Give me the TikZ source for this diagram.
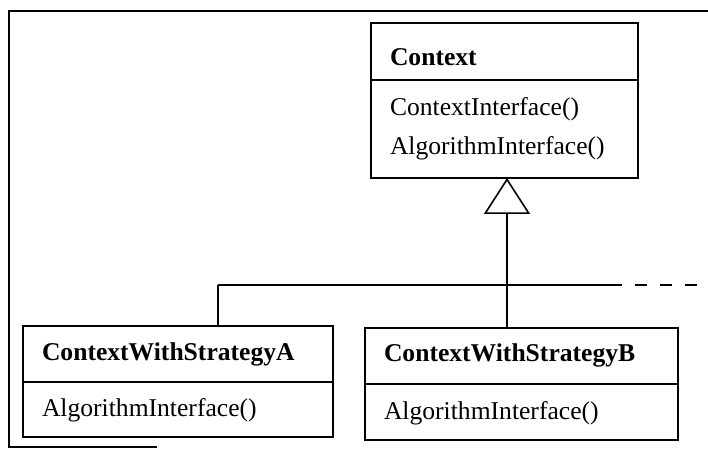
\documentclass[tikz,border=0pt]{standalone}
\usepackage{fontspec}
\setmainfont{Liberation Serif}
\usepackage{tikz}
\usetikzlibrary{arrows.meta, positioning}
\tikzset{
  classhead/.style={rectangle, draw=black, fill=white, anchor=north west,
    align=left, inner xsep=9.5pt, inner ysep=0pt, outer sep=0pt, line width=0.9pt,
    font=\fontsize{12.8}{19.5}\selectfont\bfseries},
  classbody/.style={rectangle, draw=black, fill=white,
    align=left, inner xsep=9.5pt, inner ysep=0pt, outer sep=0pt, line width=0.9pt,
    font=\fontsize{12.8}{19.5}\selectfont},
  line/.style={line width=0.8pt, color=black},
  inherit/.style={line width=0.8pt, color=black,
    -{Triangle[open, length=18pt, width=23pt, line width=0.8pt]}}
}

\begin{document}
\begin{tikzpicture}[x=0.5pt, y=-0.5pt]
  \useasboundingbox (0,0) rectangle (708,449);

  % Frame
  \draw[line width=1pt] (708,11) -- (9,11) -- (9,447) -- (157,447);

  % Context class
  \node[classhead, text width=114.5pt, text height=21.5pt, text depth=7pt] (ctx) at (371,23) {Context};
  \node[classbody, text width=114.5pt, text height=18pt, text depth=31pt, below=0pt of ctx] (ctxops) {ContextInterface()\\AlgorithmInterface()};

  % Strategy A
  \node[classhead, text width=136pt, text height=17pt, text depth=11pt] (stratA) at (23,326) {ContextWithStrategyA};
  \node[classbody, text width=136pt, text height=17pt, text depth=10.5pt, below=0pt of stratA] (stratAops) {AlgorithmInterface()};

  % Strategy B
  \node[classhead, text width=137.5pt, text height=17pt, text depth=11pt] (stratB) at (365,328) {ContextWithStrategyB};
  \node[classbody, text width=137.5pt, text height=17.5pt, text depth=10.5pt, below=0pt of stratB] (stratBops) {AlgorithmInterface()};

  % Inheritance tree
  \coordinate (hub) at (507,285);
  \coordinate (spurA) at (218,285);
  \coordinate (dashstart) at (610,285);
  \coordinate (dashend) at (708,285);
  \draw[inherit] (hub) -- (hub |- ctxops.south);
  \draw[line] (spurA) -- (dashstart);
  \draw[line, dash pattern=on 6pt off 6.5pt] (dashstart) -- (dashend);
  \draw[line] (spurA) -- (spurA |- stratA.north);
  \draw[line] (hub) -- (hub |- stratB.north);
\end{tikzpicture}
\end{document}
